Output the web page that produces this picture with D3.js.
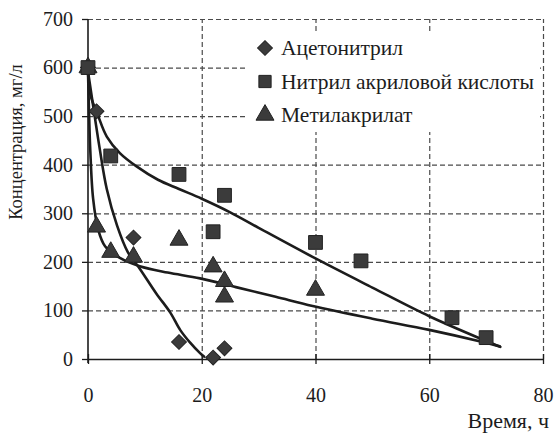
<!DOCTYPE html>
<html>
<head>
<meta charset="utf-8">
<script src="https://cdn.jsdelivr.net/npm/d3@7"></script>
<style>
  html, body { margin: 0; padding: 0; background: #fff; }
</style>
</head>
<body>
<svg id="chart" width="555" height="436"></svg>
<script>
// Measured concentrations (mg/l) against time (h)
const acetonitrileTime = [0, 1.5, 8, 16, 22, 24];
const acetonitrileConc = [600, 510, 250, 35, 3, 22];

const acrylonitrileTime = [0, 4, 16, 22, 24, 40, 48, 64, 70];
const acrylonitrileConc = [600, 418, 380, 262, 337, 240, 202, 85, 44];

const methylAcrylateTime = [0, 1.5, 4, 8, 16, 22, 24, 24, 40];
const methylAcrylateConc = [600, 272, 220, 210, 245, 190, 160, 128, 142];

// Fitted trend curves (time, concentration)
const acetonitrileFit = [[0, 592], [1.2, 498], [2.1, 430], [3.3, 350], [5.1, 275], [7, 220], [9.1, 186], [12, 135], [14.5, 95], [16.2, 60], [18, 33], [19.7, 12], [20.4, 5]];
const acrylonitrileFit = [[0, 592], [0.4, 545], [1.8, 500], [3.3, 458], [5.6, 424], [8.6, 396], [12.3, 369], [16, 350], [20, 330], [25, 302], [30, 270], [40, 207], [50, 147], [60, 88], [70, 37], [72.5, 25]];
const methylAcrylateFit = [[0, 592], [0.2, 500], [0.4, 430], [0.9, 330], [1.8, 266], [3, 232], [5.6, 208], [9.1, 191], [14, 178], [19.7, 166], [26, 148], [33, 128], [39.5, 109], [50, 83], [60, 60], [69.4, 35], [72.4, 26]];

// Axis ticks and labels
const xTicks = [0, 20, 40, 60, 80];
const yTicks = [0, 100, 200, 300, 400, 500, 600, 700];
const legendLabels = ["Ацетонитрил", "Нитрил акриловой кислоты", "Метилакрилат"];
const xTitle = "Время, ч";
const yTitle = "Концентрация, мг/л";

const FONT = "'Liberation Serif', 'Times New Roman', serif";
const svg = d3.select("#chart");
const x = d3.scaleLinear().domain([0, 80]).range([88, 543]);
const y = d3.scaleLinear().domain([0, 700]).range([359, 19]);

const ink = "#1c1c1c";
const markFill = "#3b3b3b";
const gridColor = "#4a4a4a";

// Dashed grid drawn with axis generators (tick lines span the plot)
const plotW = x(80) - x(0), plotH = y(0) - y(700);
const gridY = svg.append("g").attr("class", "grid-y")
  .attr("transform", `translate(${x(0)},0)`)
  .call(d3.axisLeft(y).tickValues(yTicks.filter(d => d > 0)).tickSize(-plotW).tickFormat(""));
const gridX = svg.append("g").attr("class", "grid-x")
  .attr("transform", `translate(0,${y(0)})`)
  .call(d3.axisBottom(x).tickValues(xTicks.filter(d => d > 0)).tickSize(-plotH).tickFormat(""));
[gridY, gridX].forEach(g => {
  g.select(".domain").remove();
  g.selectAll(".tick line").attr("stroke", gridColor).attr("stroke-width", 1.2)
    .attr("stroke-dasharray", "5,3");
});

// Legend background masks the grid behind the key
svg.append("rect").attr("x", 247).attr("y", 31).attr("width", 293).attr("height", 101)
  .attr("fill", "#fff");

// Axes
const gx = svg.append("g").attr("transform", `translate(0,${y(0)})`)
  .call(d3.axisBottom(x).tickValues(xTicks).tickSize(5).tickSizeOuter(0).tickPadding(24));
gx.attr("font-family", null).attr("font-size", null);
gx.select(".domain").attr("stroke", ink).attr("stroke-width", 1.6);
gx.selectAll(".tick line").attr("stroke", ink).attr("stroke-width", 1.3).attr("y1", -5);
gx.selectAll(".tick text").attr("fill", ink).style("font-family", FONT).style("font-size", "20px");

const gy = svg.append("g").attr("transform", `translate(${x(0)},0)`)
  .call(d3.axisLeft(y).tickValues(yTicks).tickSize(6).tickSizeOuter(0).tickPadding(9));
gy.attr("font-family", null).attr("font-size", null);
gy.select(".domain").attr("stroke", ink).attr("stroke-width", 1.6).attr("d", `M0,${y(700)}V${y(0) + 4}`);
gy.selectAll(".tick line").attr("stroke", ink).attr("stroke-width", 1.3);
gy.selectAll(".tick text").attr("fill", ink).style("font-family", FONT).style("font-size", "20px");

// Axis titles
svg.append("text").attr("x", 549).attr("y", 428).attr("text-anchor", "end")
  .style("font-family", FONT).style("font-size", "22px").attr("fill", ink).text(xTitle);
svg.append("text").attr("transform", `translate(22,142) rotate(-90)`).attr("text-anchor", "middle")
  .style("font-family", FONT).style("font-size", "18.5px").attr("fill", ink).text(yTitle);

// Trend curves
const line = d3.line().x(d => x(d[0])).y(d => y(d[1])).curve(d3.curveCatmullRom.alpha(0.5));
[acetonitrileFit, acrylonitrileFit, methylAcrylateFit].forEach(fit => {
  svg.append("path").attr("d", line(fit)).attr("fill", "none")
    .attr("stroke", ink).attr("stroke-width", 2.6).attr("stroke-linecap", "round");
});

// Marker shapes
const diamond = d3.symbol().type(d3.symbolSquare).size(110);
const square = d3.symbol().type(d3.symbolSquare).size(190);
const triangle = d3.symbol().type(d3.symbolTriangle).size(140);

function drawMarks(times, concs, sym, rotate) {
  svg.append("g").selectAll("path").data(times.map((t, i) => [t, concs[i]])).join("path")
    .attr("d", sym)
    .attr("transform", d => `translate(${x(d[0])},${y(d[1])})${rotate ? " rotate(45)" : ""}`)
    .attr("fill", markFill).attr("stroke", "#222").attr("stroke-width", 1);
}
drawMarks(acetonitrileTime, acetonitrileConc, diamond, true);
drawMarks(methylAcrylateTime, methylAcrylateConc, triangle, false);
drawMarks(acrylonitrileTime, acrylonitrileConc, square, false);

// Legend
const legendSyms = [[diamond, true], [d3.symbol().type(d3.symbolSquare).size(150), false], [triangle, false]];
const legend = svg.append("g");
legendLabels.forEach((label, i) => {
  const cy = 48 + i * 33.5;
  legend.append("path").attr("d", legendSyms[i][0])
    .attr("transform", `translate(265,${cy})${legendSyms[i][1] ? " rotate(45)" : ""}`)
    .attr("fill", markFill).attr("stroke", "#222").attr("stroke-width", 1);
  legend.append("text").attr("x", 281).attr("y", cy + 7)
    .style("font-family", FONT).style("font-size", "21.5px").attr("fill", ink).text(label);
});
</script>
</body>
</html>
